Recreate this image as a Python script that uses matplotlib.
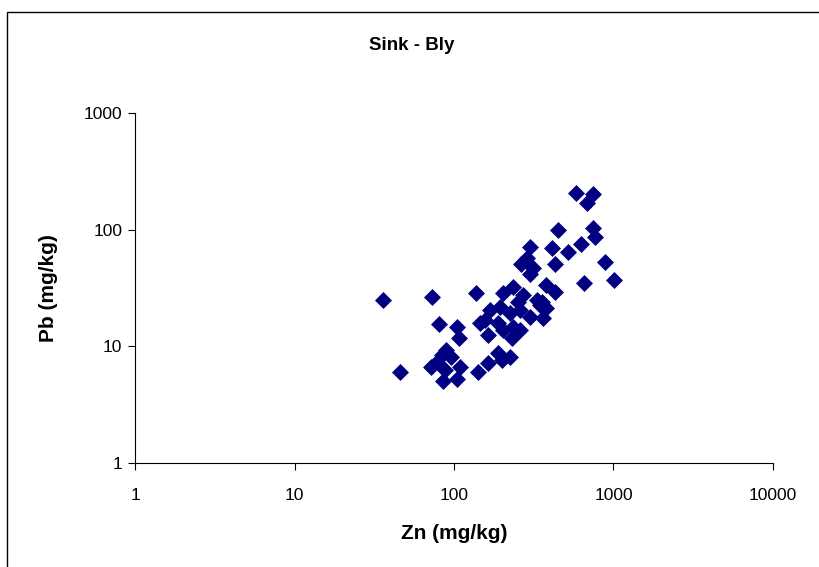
import matplotlib
matplotlib.use("Agg")
import matplotlib.pyplot as plt
from matplotlib.lines import Line2D
from matplotlib.ticker import FixedLocator, NullLocator, FuncFormatter

plt.rcParams['font.family'] = ['Liberation Sans', 'DejaVu Sans']

# Zn vs Pb (mg/kg)
zn = [36, 46, 73, 80, 137, 105, 107,
      89, 78, 72, 88, 109, 104, 85, 96, 84,
      582, 741, 686, 451, 741, 770, 626, 520, 411, 298,
      430, 886, 262, 285, 313, 298, 1003, 654, 380, 430,
      203, 234, 271, 331, 168, 156, 194, 224, 259, 299,
      346, 234, 259, 189, 203, 146, 163, 231, 224, 189,
      163, 141, 200, 252, 361, 358, 380]
pb = [25, 6.0, 26.5, 15.5, 28.6, 14.6, 11.8,
      9.3, 7.4, 6.7, 6.3, 6.7, 5.3, 5.0, 8.1, 8.4,
      207, 202, 168, 99, 103, 87, 75, 64, 69, 71,
      51, 53, 51, 57, 47, 42, 37, 35, 33.5, 29.4,
      28.6, 32.2, 27.5, 24.9, 20.5, 16.8, 21.7, 19.3, 20.5, 17.8,
      22.6, 14.6, 13.8, 15.8, 13.8, 15.8, 12.5, 11.8, 8.1, 8.8,
      7.2, 6.0, 7.6, 24.0, 17.5, 24.0, 21.3]

x_ticks = [1, 10, 100, 1000, 10000]
y_ticks = [1, 10, 100, 1000]

fig = plt.figure(figsize=(8.2, 5.67), dpi=100)
ax = fig.add_axes([135 / 820, 1 - 463 / 567, 638 / 820, 350 / 567])

# outer chart frame: only its left and top edges fall inside the picture
fx, fy = 7.5 / 820, 1 - 12 / 567
fig.lines.append(Line2D([fx, fx, 1.0], [0.0, fy, fy], transform=fig.transFigure,
                        color='black', linewidth=1.0))

ax.scatter(zn, pb, marker='D', s=75, color='#000080', linewidths=0, zorder=3)

ax.set_xscale('log')
ax.set_yscale('log')
ax.set_xlim(1, 10000)
ax.set_ylim(1, 1000)
ax.xaxis.set_major_locator(FixedLocator(x_ticks))
ax.yaxis.set_major_locator(FixedLocator(y_ticks))
ax.xaxis.set_minor_locator(NullLocator())
ax.yaxis.set_minor_locator(NullLocator())
fmt = FuncFormatter(lambda v, p: f"{v:g}")
ax.xaxis.set_major_formatter(fmt)
ax.yaxis.set_major_formatter(fmt)
ax.tick_params(axis='both', direction='out', length=5, width=0.8,
               color='black', labelsize=12.5)
ax.tick_params(axis='x', pad=13)
ax.tick_params(axis='y', pad=4)

for side in ['top', 'right']:
    ax.spines[side].set_visible(False)
for side in ['left', 'bottom']:
    ax.spines[side].set_linewidth(0.8)
    ax.spines[side].set_color('black')

ax.set_xlabel('Zn (mg/kg)', fontsize=15, fontweight='bold')
ax.set_ylabel('Pb (mg/kg)', fontsize=15, fontweight='bold')
ax.xaxis.set_label_coords(0.5, -0.175)
ax.yaxis.set_label_coords(-0.12, 0.5)

fig.text(412 / 820, 1 - 45 / 567, 'Sink - Bly', ha='center', va='center',
         fontsize=13.5, fontweight='bold')

fig.savefig('out.png', dpi=100)
